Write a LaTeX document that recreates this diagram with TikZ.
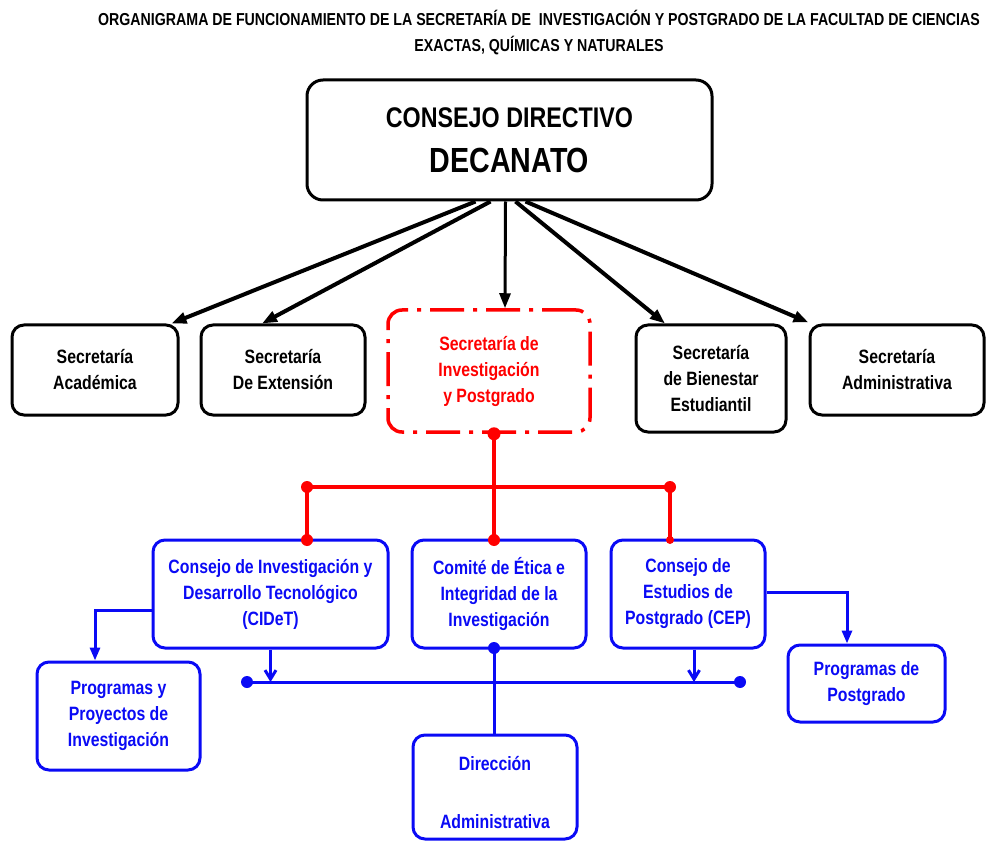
\documentclass[tikz,border=0pt]{standalone}
\usepackage{fontspec}
\setmainfont{Liberation Sans}[FakeStretch=0.82]
\usetikzlibrary{arrows.meta,calc}
\definecolor{bl}{RGB}{10,10,245}
\definecolor{rd}{RGB}{255,0,0}
\newcommand\bxf{\fontsize{19.3}{26}\selectfont\bfseries}
\newcommand\lowr[1]{\raisebox{-6pt}[\height][\depth]{#1}}
\begin{document}
\begin{tikzpicture}[x=1pt,y=-1pt,
  kbox/.style={draw=black, line width=3pt, rounded corners=12pt, align=center, font=\bxf, inner sep=0pt},
  bbox/.style={draw=bl, text=bl, line width=3pt, rounded corners=12pt, align=center, font=\bxf, inner sep=0pt},
  rbox/.style={draw=rd, text=rd, line width=3.5pt, rounded corners=14pt, align=center, font=\bxf, inner sep=0pt,
     dash pattern=on 34pt off 9pt on 4pt off 9pt},
  karrow/.style={draw=black, line width=4pt, -{Triangle[length=15pt,width=11pt]}},
  rline/.style={draw=rd, line width=3.5pt},
  bline/.style={draw=bl, line width=3pt},
  barrowT/.style={bline, -{Triangle[length=13pt,width=10pt]}},
  barrowV/.style={bline, -{Straight Barb[length=9pt,width=11pt]}},
]
\useasboundingbox (0,0) rectangle (988,842);
\clip (0,0) rectangle (988,842);

% title
\node[font=\fontsize{17.3}{26}\selectfont\bfseries, align=center] (title) at (539,33)
  {ORGANIGRAMA DE FUNCIONAMIENTO DE LA SECRETARÍA DE\ \ INVESTIGACIÓN Y POSTGRADO DE LA FACULTAD DE CIENCIAS\\EXACTAS, QUÍMICAS Y NATURALES};

% top box
\node[kbox, rounded corners=16pt, minimum width=405pt, minimum height=120pt] (cd) at (509.5,140)
  {\fontsize{28.4}{34}\selectfont CONSEJO DIRECTIVO\\[19pt]\fontsize{34.9}{40}\selectfont DECANATO};

% second row
\node[kbox, minimum width=166pt, minimum height=90pt] (acad) at (95,370) {Secretaría\\Académica};
\node[kbox, minimum width=164pt, minimum height=90pt] (ext) at (283,370) {Secretaría\\De Extensión};
\node[rbox, minimum width=202pt, minimum height=122pt] (sip) at (489,371) {Secretaría de\\Investigación\\y Postgrado};
\node[kbox, minimum width=150pt, minimum height=107pt] (bien) at (711,378.5) {Secretaría\\de Bienestar\\Estudiantil};
\node[kbox, minimum width=174pt, minimum height=90pt] (adm) at (897,370) {Secretaría\\Administrativa};

% black arrows
\draw[karrow] ($(cd.south)+(-34,0)$) -- ($(acad.north east)+(-8,0)$);
\draw[karrow] ($(cd.south)+(-19,0)$) -- ($(ext.north)+(-21,0)$);
\draw[karrow, line width=3pt] ($(cd.south)+(-4,0)$) -- ($(sip.north)+(16,0)$);
\draw[karrow] ($(cd.south)+(6,0)$) -- ($(bien.north)+(-46,0)$);
\draw[karrow] ($(cd.south)+(16,0)$) -- ($(adm.north west)+(0,-1)$);

% third row
\node[bbox, minimum width=235pt, minimum height=108pt] (cid) at (270.5,594) {Consejo de Investigación y\\Desarrollo Tecnológico\\(CIDeT)};
\node[bbox, minimum width=174pt, minimum height=108pt] (cmt) at (499,594) {Comité de Ética e\\Integridad de la\\Investigación};
\node[bbox, minimum width=154pt, minimum height=108pt] (cep) at (688,594) {Consejo de\\Estudios de\\Postgrado (CEP)};

% fourth row
\node[bbox, minimum width=163pt, minimum height=108pt] (prog) at (118.5,716) {Programas y\\Proyectos de\\Investigación};
\node[bbox, minimum width=164pt, minimum height=104pt] (dir) at (495,787) {\lowr{Dirección}\\[32pt]\lowr{Administrativa}};
\node[bbox, minimum width=157pt, minimum height=77pt] (ppg) at (866.5,683.5) {Programas de\\Postgrado};

% red connectors
\coordinate (rx) at (494,487);
\coordinate (rl) at (307,487);
\coordinate (rr) at (670,487);
\draw[rline] (sip.south -| rx) -- (cmt.north -| rx);
\draw[rline] (rl) -- (rr);
\draw[rline] (rl) -- (cid.north -| rl);
\draw[rline] (rr) -- (cep.north -| rr);
\fill[rd] (sip.south -| rx) circle (6.5pt);
\fill[rd] (rl) circle (6pt);
\fill[rd] (rr) circle (6pt);
\fill[rd] ($(cid.north -| rl)+(0,1.5)$) circle (6pt);
\fill[rd] ($(cmt.north -| rx)+(0,1.5)$) circle (6pt);
\fill[rd] ($(cep.north -| rr)+(0,1.5)$) circle (4pt);

% blue connectors
\coordinate (bl1) at (247,682);
\coordinate (br1) at (740,682);
\coordinate (px) at (95,0);
\coordinate (cx) at (694,0);
\coordinate (qx) at (847,0);
\draw[bline] (bl1) -- (br1);
\fill[bl] (bl1) circle (6pt);
\fill[bl] (br1) circle (6pt);
\draw[barrowT] ($(cid.west)+(0,16)$) -| (prog.north -| px);
\draw[barrowV] (cid.south) -- (bl1 -| cid.south);
\draw[bline] (cmt.south -| rx) -- (dir.north -| rx);
\fill[bl] ($(cmt.south -| rx)+(0,-1.5)$) circle (6pt);
\draw[barrowV] (cep.south -| cx) -- (bl1 -| cx);
\draw[barrowT] ($(cep.east)+(0,-2)$) -| (ppg.north -| qx);
\end{tikzpicture}
\end{document}
